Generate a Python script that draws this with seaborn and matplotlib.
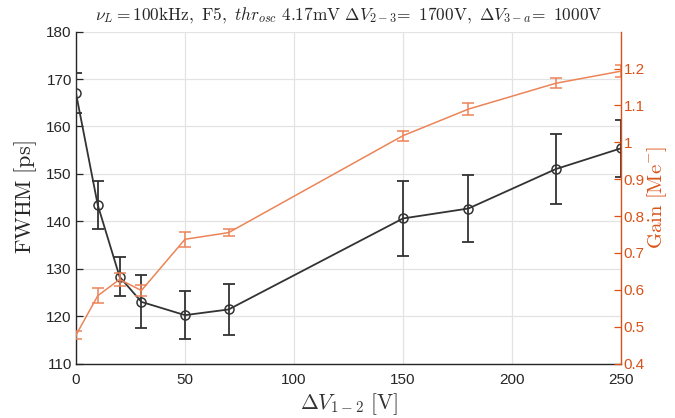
import matplotlib
matplotlib.use("Agg")
import matplotlib.pyplot as plt
import seaborn as sns
import pandas as pd
from matplotlib.ticker import FuncFormatter, FixedLocator

# ---- data ----
dv12 = [0, 10, 20, 30, 50, 70, 150, 180, 220, 250]
fwhm = [167.0, 143.4, 128.3, 123.0, 120.2, 121.4, 140.6, 142.7, 151.0, 155.4]
fwhm_err = [4.2, 5.0, 4.1, 5.6, 5.0, 5.4, 8.0, 7.0, 7.4, 6.0]
gain = [0.477, 0.584, 0.628, 0.598, 0.737, 0.755, 1.018, 1.090, 1.160, 1.193]
gain_err = [0.011, 0.020, 0.018, 0.014, 0.020, 0.010, 0.014, 0.016, 0.014, 0.016]

title = (r'$\nu_L = 100\mathrm{kHz},\ \mathrm{F5},\ thr_{osc}\ 4.17\mathrm{mV}\ '
         r'\Delta V_{2-3}\!=\ 1700\mathrm{V},\ \Delta V_{3-a}\!=\ 1000\mathrm{V}$')
xlabel = r'$\Delta V_{1-2}\ [\mathrm{V}]$'
ylabel_left = r'$\mathrm{FWHM\ [ps]}$'
ylabel_right = r'$\mathrm{Gain\ [Me^{-}]}$'

left_ticks = [110, 120, 130, 140, 150, 160, 170, 180]
right_ticks = [0.4, 0.5, 0.6, 0.7, 0.8, 0.9, 1.0, 1.1, 1.2]
x_ticks = [0, 50, 100, 150, 200, 250]

df = pd.DataFrame({"dv12": dv12, "fwhm": fwhm, "gain": gain})

# ---- style ----
sns.set_style("white")
plt.rcParams["font.family"] = ["Liberation Sans", "DejaVu Sans"]
plt.rcParams["mathtext.fontset"] = "cm"
plt.rcParams["xtick.direction"] = "in"
plt.rcParams["ytick.direction"] = "in"

ORANGE_AX = "#D95319"
ORANGE_LN = "#EC8458"
DARK = "#262626"
LINE = "#333333"
GRID = "#E3E3E3"

fig = plt.figure(figsize=(6.75, 4.18), dpi=100)
ax = fig.add_axes([76 / 675, 1 - 363.5 / 418, (621 - 76) / 675, (363.5 - 31.7) / 418])

ax.set_xlim(0, 250)
ax.set_ylim(110, 180)
ax.xaxis.set_major_locator(FixedLocator(x_ticks))
ax.yaxis.set_major_locator(FixedLocator(left_ticks))
ax.grid(True, color=GRID, lw=0.9)
ax.set_axisbelow(True)

sns.lineplot(data=df, x="dv12", y="fwhm", ax=ax, color=LINE, lw=1.3,
             marker="o", markersize=6.5, markerfacecolor="none",
             markeredgecolor=LINE, markeredgewidth=1.1, zorder=3)
ax.errorbar(dv12, fwhm, yerr=fwhm_err, fmt="none", ecolor=LINE,
            elinewidth=1.3, capsize=4, capthick=1.3, zorder=3)

ax2 = ax.twinx()
ax2.set_ylim(0.4, 1.3)
ax2.yaxis.set_major_locator(FixedLocator(right_ticks))
ax2.yaxis.set_major_formatter(FuncFormatter(lambda v, p: f"{v:g}"))
sns.lineplot(data=df, x="dv12", y="gain", ax=ax2, color=ORANGE_LN, lw=1.1)
ax2.errorbar(dv12, gain, yerr=gain_err, fmt="none", ecolor=ORANGE_LN,
             elinewidth=1.1, capsize=4, capthick=1.1)
ax2.set_xlim(0, 250)

# spines / ticks
for s in ["top"]:
    ax.spines[s].set_visible(False)
    ax2.spines[s].set_visible(False)
ax.spines["right"].set_visible(False)
ax2.spines["left"].set_visible(False)
ax2.spines["bottom"].set_visible(False)
ax.spines["left"].set_color(DARK)
ax.spines["bottom"].set_color(DARK)
ax.spines["left"].set_linewidth(1.0)
ax.spines["bottom"].set_linewidth(1.0)
ax2.spines["right"].set_color(ORANGE_AX)
ax2.spines["right"].set_linewidth(1.0)

ax.tick_params(axis="both", labelsize=11, colors=DARK, length=5, width=0.9, pad=3)
ax.tick_params(axis="x", length=0, pad=7)
ax2.tick_params(axis="y", labelsize=11, colors=ORANGE_AX, length=5, width=0.9, pad=2)

ax.set_xlabel(xlabel, fontsize=15.5, color="#333333", labelpad=3)
ax.set_ylabel(ylabel_left, fontsize=16, color=DARK, labelpad=5)
ax2.set_ylabel(ylabel_right, fontsize=15, color=ORANGE_AX, labelpad=0)
ax.set_title(title, fontsize=12.5, color=DARK, pad=8)

fig.savefig("out.png", dpi=100)
